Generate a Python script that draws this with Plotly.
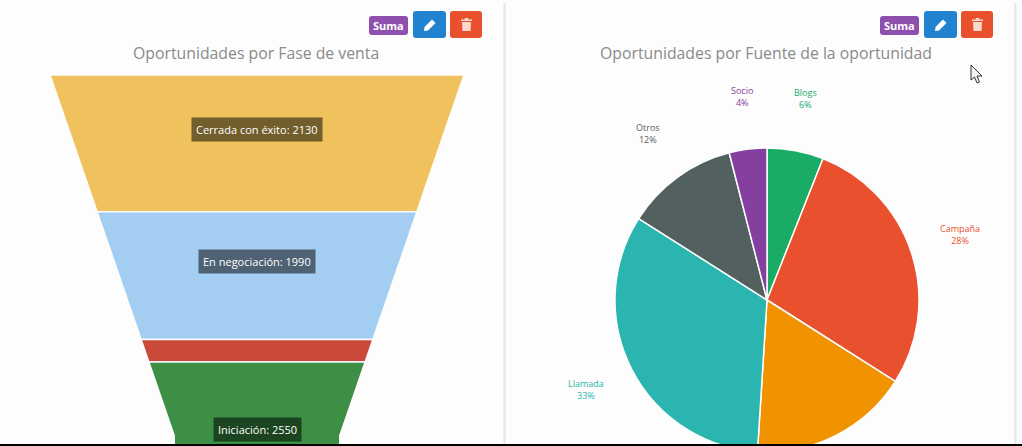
import math
import plotly.graph_objects as go

# funnel data (top to bottom)
fases = ["Cerrada con éxito", "En negociación", "Propuesta", "Iniciación"]
fase_valores = [2130, 1990, 350, 2550]
fase_colores = ["#EFC25D", "#A3CEF1", "#C9493B", "#3C8F44"]
fase_con_etiqueta = [True, True, False, True]

# pie data (clockwise from 12 o'clock)
fuentes = ["Blogs", "Campaña", "Web", "Llamada", "Otros", "Socio"]
fuente_valores = [6, 28, 17, 33, 12, 4]
fuente_colores = ["#1AAB67", "#E9502D", "#F19300", "#2AB5B0", "#536060", "#85409F"]

W = 1022
H = 470  # taller than the window, the pie and the funnel run off the bottom
FONT = "Open Sans"


def px(x):
    return x / W


def py(y):
    return 1 - y / H


def rrect(x0, y0, x1, y1, r=3):
    return (f"M {px(x0+r)} {py(y0)} L {px(x1-r)} {py(y0)} Q {px(x1)} {py(y0)} {px(x1)} {py(y0+r)} "
            f"L {px(x1)} {py(y1-r)} Q {px(x1)} {py(y1)} {px(x1-r)} {py(y1)} "
            f"L {px(x0+r)} {py(y1)} Q {px(x0)} {py(y1)} {px(x0)} {py(y1-r)} "
            f"L {px(x0)} {py(y0+r)} Q {px(x0)} {py(y0)} {px(x0+r)} {py(y0)} Z")


def poly(points):
    return "M " + " L ".join(f"{px(a)} {py(b)}" for a, b in points) + " Z"


fig = go.Figure()

# funnel, amCharts style: 40% neck over the last 20% of the height
total = sum(fase_valores)
neck_w = 0.4
neck_at = 0.8 * total


def half_width(c):
    if c >= neck_at:
        return neck_w
    return 1 - (1 - neck_w) * c / neck_at


annotations = []
start = 0
for nombre, valor, color, etiqueta in zip(fases, fase_valores, fase_colores, fase_con_etiqueta):
    end = start + valor
    cortes = [start] + ([neck_at] if start < neck_at < end else []) + [end]
    xs = [half_width(c) for c in cortes] + [-half_width(c) for c in cortes[::-1]]
    ys = cortes + cortes[::-1]
    fig.add_trace(go.Scatter(x=xs + xs[:1], y=ys + ys[:1], mode="lines", fill="toself", fillcolor=color,
                             line=dict(color="#FDFDFD", width=1.5), name=nombre, hoverinfo="name",
                             xaxis="x", yaxis="y"))
    if etiqueta:
        annotations.append(dict(x=0, y=(start + end) / 2, xref="x", yref="y", yshift=14,
                                xanchor="center", yanchor="middle",
                                text=f"{nombre}: {valor}", showarrow=False,
                                font=dict(family=FONT, size=11, color="#FFFFFF"),
                                bgcolor="rgba(0,0,0,0.52)", borderpad=4))
    start = end

# axis scale: 207 px per half width unit, 0.0642 px per value unit
x_unit = 207
y_unit = 0.0642
cx_f, top_f = 257, 75

fig.add_trace(go.Pie(labels=fuentes, values=fuente_valores, sort=False, direction="clockwise", rotation=0,
                     marker=dict(colors=fuente_colores, line=dict(color="#FDFDFD", width=1.5)),
                     textinfo="none", showlegend=False,
                     domain=dict(x=[px(615), px(919)], y=[py(452), py(148)])))

# pie labels sit on a ring around the slice midpoints
cx_p, cy_p, r_lab = 767, 297.5, 203
acum = 0
for nombre, valor, color in zip(fuentes, fuente_valores, fuente_colores):
    ang = 2 * math.pi * (acum + valor / 2) / sum(fuente_valores)
    acum += valor
    lx, ly = cx_p + r_lab * math.sin(ang), cy_p - r_lab * math.cos(ang)
    if ly > H:
        continue
    annotations.append(dict(x=px(lx), y=py(ly), xref="paper", yref="paper", showarrow=False,
                            xanchor="center", yanchor="middle",
                            text=f"{nombre}<br>{valor}%", align="center",
                            font=dict(family=FONT, size=9, color=color)))

for titulo, cx in [("Oportunidades por Fase de venta", 256), ("Oportunidades por Fuente de la oportunidad", 766)]:
    annotations.append(dict(x=px(cx), y=py(53), xref="paper", yref="paper", showarrow=False, text=titulo,
                            xanchor="center", yanchor="middle",
                            font=dict(family=FONT, size=15.8, color="#8A8A8A")))

shapes = []
# panel dividers
for x in (504.5, 1015.5):
    shapes.append(dict(type="line", xref="paper", yref="paper", x0=px(x), x1=px(x), y0=py(3), y1=py(444),
                       line=dict(color="#E6E6E6", width=2)))

# toolbar buttons
for off in (0, 511):
    shapes.append(dict(type="path", xref="paper", yref="paper", path=rrect(369 + off, 16, 408 + off, 35),
                       fillcolor="#8E4FAE", line_width=0))
    shapes.append(dict(type="path", xref="paper", yref="paper", path=rrect(413 + off, 11, 446 + off, 38),
                       fillcolor="#2183D0", line_width=0))
    shapes.append(dict(type="path", xref="paper", yref="paper", path=rrect(450 + off, 11, 482 + off, 38),
                       fillcolor="#E9502D", line_width=0))
    # pencil
    shapes.append(dict(type="path", xref="paper", yref="paper",
                       path=poly([(424 + off, 31), (424.5 + off, 27), (432 + off, 19.5), (435.5 + off, 23), (428 + off, 30.5)]),
                       fillcolor="#FFFFFF", line_width=0))
    # trash can
    shapes.append(dict(type="path", xref="paper", yref="paper",
                       path=poly([(462 + off, 22), (471 + off, 22), (470.5 + off, 31), (462.5 + off, 31)]),
                       fillcolor="#FBD9CF", line_width=0))
    shapes.append(dict(type="path", xref="paper", yref="paper",
                       path=poly([(461 + off, 19.5), (464.5 + off, 19.5), (465 + off, 18), (468 + off, 18), (468.5 + off, 19.5), (472 + off, 19.5), (472 + off, 21), (461 + off, 21)]),
                       fillcolor="#FBD9CF", line_width=0))
    annotations.append(dict(x=px(388.5 + off), y=py(25.5), xref="paper", yref="paper", showarrow=False, text="<b>Suma</b>",
                            xanchor="center", yanchor="middle",
                            font=dict(family=FONT, size=11, color="#FFFFFF")))

# mouse pointer
shapes.append(dict(type="path", xref="paper", yref="paper",
                   path=poly([(971, 65), (971, 80), (974.5, 77), (977, 83), (979.5, 82), (977, 76), (982, 76)]),
                   fillcolor="#F4F4F4", line=dict(color="#333333", width=1)))

# black strip at the bottom of the capture
shapes.append(dict(type="rect", xref="paper", yref="paper", x0=0, x1=1, y0=0, y1=py(444),
                   fillcolor="#000000", line_width=0))

fig.update_layout(
    width=W, height=H, margin=dict(l=0, r=0, t=0, b=0), autosize=False,
    paper_bgcolor="#FDFDFD", plot_bgcolor="rgba(0,0,0,0)", showlegend=False,
    xaxis=dict(range=[-cx_f / x_unit, (W - cx_f) / x_unit], visible=False, fixedrange=True),
    yaxis=dict(range=[(H - top_f) / y_unit, -top_f / y_unit], visible=False, fixedrange=True),
    shapes=shapes, annotations=annotations, font=dict(family=FONT),
)

fig.write_html("out.html", config=dict(displayModeBar=False),
               post_script="document.body.style.margin='0';document.body.style.overflow='hidden';document.documentElement.style.overflow='hidden';")
